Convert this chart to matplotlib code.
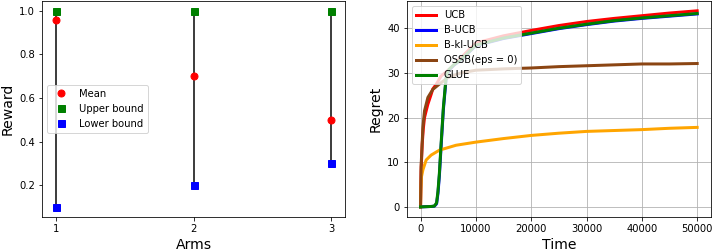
"""Arm reward bounds and cumulative regret of bandit algorithms."""

import matplotlib
matplotlib.use('Agg')
import matplotlib.pyplot as plt

# left panel: reward estimates per arm
arms = [1, 2, 3]
means = [0.96, 0.70, 0.50]
upper = [1.0, 1.0, 1.0]
lower = [0.1, 0.2, 0.3]

# right panel: cumulative regret over time
t_ucb = [0, 100, 300, 500, 720, 1020, 1330, 1920, 2220, 2820, 3720, 5500,
         7310, 10000, 15000, 20000, 25000, 30000, 35000, 40000, 45000, 50000]
ucb = [0, 8.0, 14.0, 17.5, 20.0, 21.5, 23.0, 25.2, 26.4, 27.4, 29.3, 31.1,
       33.4, 36.7, 38.3, 39.5, 40.6, 41.5, 42.2, 42.8, 43.4, 43.9]

t_glue = [0, 1000, 2000, 2500, 2900, 3150, 3410, 3720, 4130, 4615, 5150,
          6000, 7310, 10000, 15000, 20000, 25000, 30000, 35000, 40000, 45000, 50000]
glue = [0, 0.05, 0.1, 0.2, 0.9, 3.5, 7.6, 14.2, 22.3, 29.0, 30.8,
        31.8, 33.0, 36.2, 37.8, 38.9, 40.0, 40.9, 41.7, 42.3, 42.8, 43.3]
bucb = [0, 0.05, 0.1, 0.15, 0.7, 3.0, 7.0, 13.6, 21.8, 28.6, 30.6,
        31.7, 32.9, 36.1, 37.7, 38.8, 39.9, 40.8, 41.6, 42.2, 42.7, 43.2]

t_kl = [0, 60, 180, 430, 1020, 1920, 3410, 6410, 10000, 15000, 20000,
        25000, 30000, 35000, 40000, 45000, 50000]
bklucb = [0, 4.0, 6.8, 8.3, 10.5, 11.6, 12.7, 13.8, 14.5, 15.3, 16.0,
          16.5, 16.9, 17.1, 17.3, 17.6, 17.8]

t_ossb = [0, 100, 430, 720, 1330, 2220, 3410, 5000, 7310, 10000, 15000,
          20000, 25000, 30000, 35000, 40000, 45000, 50000]
ossb = [0, 9.0, 17.9, 21.5, 24.5, 26.3, 27.5, 29.0, 30.0, 30.6, 30.9,
        31.1, 31.4, 31.6, 31.8, 32.0, 32.0, 32.1]

fig = plt.figure(figsize=(712 / 72, 252 / 72), dpi=72)
ax1 = fig.add_axes([42 / 712, 35.3 / 252, 303 / 712, 215.7 / 252])
ax2 = fig.add_axes([406.7 / 712, 35.3 / 252, 304.3 / 712, 215.7 / 252])

ax1.vlines(arms, lower, upper, color='#404040', linewidth=2, zorder=1)
ax1.plot(arms, means, 'o', color='red', markersize=7, label='Mean', zorder=3)
ax1.plot(arms, upper, 's', color='green', markersize=7, label='Upper bound', zorder=2)
ax1.plot(arms, lower, 's', color='blue', markersize=7, label='Lower bound', zorder=2)
ax1.set_xticks(arms)
ax1.set_xlabel('Arms', fontsize=14)
ax1.set_ylabel('Reward', fontsize=14)
ax1.tick_params(labelsize=10)
ax1.legend(loc='center left', fontsize=10)

ax2.plot(t_ucb, ucb, color='red', linewidth=3, label='UCB')
ax2.plot(t_glue, bucb, color='blue', linewidth=3, label='B-UCB')
ax2.plot(t_kl, bklucb, color='orange', linewidth=3, label='B-kl-UCB')
ax2.plot(t_ossb, ossb, color='saddlebrown', linewidth=3, label='OSSB(eps = 0)')
ax2.plot(t_glue, glue, color='green', linewidth=3, label='GLUE')
ax2.grid(True)
ax2.set_xlabel('Time', fontsize=14)
ax2.set_ylabel('Regret', fontsize=14)
ax2.tick_params(labelsize=10)
ax2.legend(loc='upper left', fontsize=10)

fig.savefig('out.png', dpi=72)
